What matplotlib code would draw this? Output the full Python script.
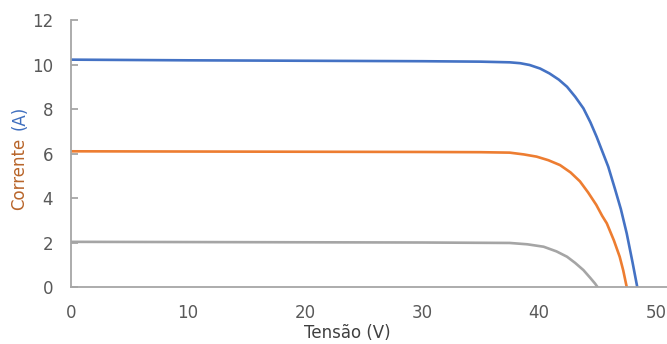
import matplotlib.pyplot as plt

# ----- I-V curves at three irradiance levels -----
v_high = [0, 10, 20, 30, 35, 37.5, 38.4, 39.2, 40.1, 40.9, 41.7, 42.4, 43.1, 43.8,
          44.4, 44.93, 45.92, 46.5, 47.0, 47.5, 48.0, 48.4]
i_high = [10.22, 10.19, 10.17, 10.15, 10.13, 10.10, 10.06, 9.98, 9.82, 9.60, 9.32,
          9.00, 8.55, 8.03, 7.40, 6.75, 5.41, 4.40, 3.50, 2.41, 1.10, 0.0]

v_mid = [0, 10, 20, 30, 35, 37.5, 38.7, 39.8, 40.8, 41.8, 42.7, 43.5, 44.2, 44.9,
         45.4, 45.8, 46.4, 46.9, 47.2, 47.5]
i_mid = [6.10, 6.09, 6.08, 6.07, 6.06, 6.04, 5.96, 5.86, 5.70, 5.48, 5.15, 4.75,
         4.25, 3.69, 3.20, 2.86, 2.10, 1.36, 0.75, 0.0]

v_low = [0, 10, 20, 30, 37.5, 39.0, 40.4, 41.5, 42.4, 43.1, 43.8, 44.4, 44.8, 45.0]
i_low = [2.03, 2.02, 2.01, 2.00, 1.98, 1.92, 1.81, 1.60, 1.36, 1.08, 0.76, 0.40,
         0.15, 0.0]

x_ticks = [0, 10, 20, 30, 40, 50]
y_ticks = [0, 2, 4, 6, 8, 10, 12]

# ----- Plot -----
fig = plt.figure(figsize=(6.67, 3.44), dpi=100)
ax = fig.add_axes([0.1064, 0.1657, 0.8946, 0.776])

ax.plot(v_high, i_high, color="#4472C4", linewidth=1.9)
ax.plot(v_mid, i_mid, color="#ED7D31", linewidth=1.9)
ax.plot(v_low, i_low, color="#A5A5A5", linewidth=1.9)

ax.set_xlim(0, 51)
ax.set_ylim(0, 12)
ax.set_xticks(x_ticks)
ax.set_yticks(y_ticks)

for side in ["top", "right"]:
    ax.spines[side].set_visible(False)
for side in ["left", "bottom"]:
    ax.spines[side].set_color("#A6A6A6")
    ax.spines[side].set_linewidth(1.3)

ax.tick_params(axis="x", length=0, pad=12, labelsize=12, labelcolor="#595959")
ax.tick_params(axis="y", direction="in", length=5, width=1.3, color="#A6A6A6",
               pad=13, labelsize=12, labelcolor="#595959")

# axis titles
fig.text(347 / 667, 1 - 333 / 344, "Tensão (V)", fontsize=12, color="#404040",
         ha="center", va="center")
fig.text(0.029, 0.494, "Corrente", rotation=90, fontsize=12, color="#B8652A",
         ha="center", va="center")
fig.text(0.029, 0.657, "(A)", rotation=90, fontsize=12, color="#3F6FBF",
         ha="center", va="center")

fig.savefig("out.png", dpi=100)
